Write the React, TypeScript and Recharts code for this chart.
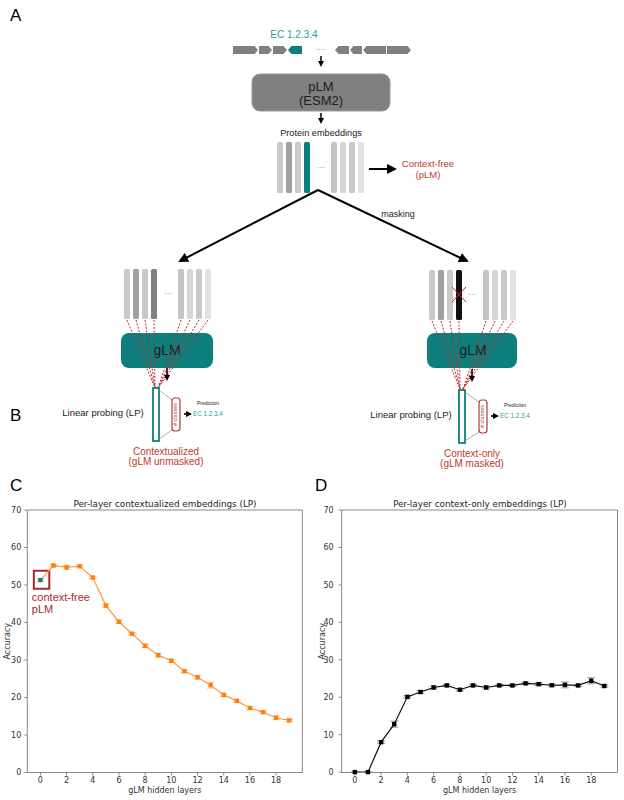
import React from 'react';
import { LineChart, Line, XAxis, YAxis, ErrorBar, ReferenceLine, ReferenceArea } from 'recharts';

const layers = [0, 1, 2, 3, 4, 5, 6, 7, 8, 9, 10, 11, 12, 13, 14, 15, 16, 17, 18, 19];
const contextualizedAcc = [51.3, 55.2, 54.7, 55.0, 52.0, 44.5, 40.2, 37.0, 33.8, 31.3, 29.8, 27.0, 25.4, 23.3, 20.7, 19.1, 17.2, 16.1, 14.6, 13.9];
const contextualizedErr = [0.3, 0.3, 0.5, 0.3, 0.3, 0.4, 0.4, 0.3, 0.4, 0.5, 0.4, 0.3, 0.5, 0.8, 0.4, 0.3, 0.4, 0.3, 0.5, 0.3];
const contextOnlyAcc = [0, 0, 8.0, 12.8, 20.1, 21.4, 22.6, 23.15, 22.0, 23.15, 22.6, 23.15, 23.15, 23.7, 23.5, 23.2, 23.3, 23.15, 24.4, 23.0];
const contextOnlyErr = [0.1, 0.1, 0.3, 0.8, 0.3, 0.4, 0.4, 0.3, 0.3, 0.3, 0.4, 0.3, 0.3, 0.3, 0.4, 0.3, 0.8, 0.3, 0.8, 0.3];
const xTicks = [0, 2, 4, 6, 8, 10, 12, 14, 16, 18];
const yTicks = [0, 10, 20, 30, 40, 50, 60, 70];

const contextualizedData = layers.map((layer, i) => ({ layer, acc: contextualizedAcc[i], err: contextualizedErr[i] }));
const contextOnlyData = layers.map((layer, i) => ({ layer, acc: contextOnlyAcc[i], err: contextOnlyErr[i] }));

const TEAL = '#0d7f7c';
const RED = '#c0392b';
const AXIS = '#888';
const SANS = 'Liberation Sans, Arial, sans-serif';
const PLOT_FONT = 'DejaVu Sans, sans-serif';

const genes: [number, number, number][] = [
  [233, 258, 1], [259, 272, 1], [273, 287, 1], [288, 302, -1],
  [335, 349, -1], [350, 362, -1], [363, 386, -1], [387, 411, 1],
];

function genePath(x0: number, x1: number, dir: number) {
  const y0 = 46, y1 = 54, ym = 50, h = 3.5;
  if (dir === 1) return `M${x0},${y0}L${x1 - h},${y0}L${x1},${ym}L${x1 - h},${y1}L${x0},${y1}Z`;
  return `M${x0 + h},${y0}L${x1},${y0}L${x1},${y1}L${x0 + h},${y1}L${x0},${ym}Z`;
}

const barGreys = ['#c9c9c9', '#a0a0a0', '#c9c9c9', '', '#c4c4c4', '#d6d6d6', '#c9c9c9', '#e2e2e2'];

function Bars({ xs, y0, y1, mid }: { xs: number[]; y0: number; y1: number; mid: string }) {
  return (
    <g>
      {xs.map((x, i) => (
        <rect key={i} x={x} y={y0} width={6} height={y1 - y0} rx={1.5} fill={i === 3 ? mid : barGreys[i]} />
      ))}
    </g>
  );
}

function Dashes({ xs, y, lx, rx, by }: { xs: number[]; y: number; lx: number; rx: number; by: number }) {
  return (
    <g stroke="#c0282d" strokeWidth={1} strokeDasharray="2 1.5" fill="none">
      {xs.map((x, i) => (
        <line key={i} x1={x + 3} y1={y} x2={i < 4 ? lx : rx} y2={by} />
      ))}
    </g>
  );
}

function Probe({ x, y, cls, lbl1, lbl2 }: { x: number; y: number; cls: number; lbl1: string; lbl2: string }) {
  return (
    <g fontFamily={SANS}>
      <rect x={x} y={y} width={6} height={53} fill="#fff" stroke={TEAL} strokeWidth={1.8} />
      <line x1={x + 6} y1={y + 2} x2={cls} y2={y + 12} stroke="#999" strokeWidth={0.8} />
      <line x1={x + 6} y1={y + 51} x2={cls} y2={y + 42} stroke="#999" strokeWidth={0.8} />
      <rect x={cls} y={y + 10} width={8} height={33} rx={3} fill="#fff" stroke="#b03a3a" strokeWidth={1.2} />
      <text x={cls + 4} y={y + 26.5} fontSize={5.5} fill="#b03a3a" textAnchor="middle" dominantBaseline="middle"
        transform={`rotate(-90 ${cls + 4} ${y + 26.5})`}># classes</text>
      <line x1={cls + 12} y1={y + 26} x2={cls + 17} y2={y + 26} stroke="#000" strokeWidth={1.6} markerEnd="url(#ahs)" />
      <text x={cls + 36} y={y + 17} fontSize={5} textAnchor="middle" fill="#222">Prediction</text>
      <text x={cls + 36} y={y + 28} fontSize={6.3} textAnchor="middle" fill="#2a9d9a">EC 1.2.3.4</text>
      <text x={x + 13} y={y + 67} fontSize={10} textAnchor="middle" fill={RED}>{lbl1}</text>
      <text x={x + 13} y={y + 77} fontSize={10} textAnchor="middle" fill={RED}>{lbl2}</text>
    </g>
  );
}

function Diagram() {
  return (
    <svg width={624} height={800} style={{ position: 'absolute', left: 0, top: 0 }}>
      <defs>
        <marker id="ah" viewBox="0 0 10 10" refX="8" refY="5" markerWidth="5" markerHeight="5" orient="auto">
          <path d="M0,0L10,5L0,10z" fill="#000" />
        </marker>
        <marker id="ahs" viewBox="0 0 10 10" refX="5" refY="5" markerWidth="4" markerHeight="4" orient="auto">
          <path d="M0,0L10,5L0,10z" fill="#000" />
        </marker>
      </defs>
      <g fontFamily={SANS}>
        <text x={10} y={21} fontSize={17}>A</text>
        <text x={10} y={421} fontSize={17}>B</text>
        <text x={10} y={491} fontSize={17}>C</text>
        <text x={315} y={491} fontSize={17}>D</text>

        <text x={294} y={38} fontSize={10} textAnchor="middle" fill="#2a9d9a">EC 1.2.3.4</text>
        {genes.map(([a, b, d], i) => (
          <path key={i} d={genePath(a, b, d)} fill={i === 3 ? TEAL : '#808080'} />
        ))}
        <text x={321} y={52} fontSize={8} textAnchor="middle" fill="#777">····</text>
        <line x1={321} y1={56} x2={321} y2={64} stroke="#000" strokeWidth={1.5} markerEnd="url(#ahs)" />

        <rect x={252} y={74} width={138} height={37} rx={8} fill="#808080" stroke="#9a9a9a" />
        <text x={321} y={91} fontSize={13} textAnchor="middle" fill="#1c1c1c">pLM</text>
        <text x={321} y={105} fontSize={13} textAnchor="middle" fill="#1c1c1c">(ESM2)</text>
        <line x1={321} y1={113} x2={321} y2={121} stroke="#000" strokeWidth={1.5} markerEnd="url(#ahs)" />
        <text x={321} y={136} fontSize={9.2} textAnchor="middle" fill="#1c1c1c">Protein embeddings</text>

        <Bars xs={[277, 286, 295, 304, 331, 340, 349, 358]} y0={142} y1={193} mid={TEAL} />
        <text x={321} y={170} fontSize={8} textAnchor="middle" fill="#777">···</text>
        <line x1={369} y1={169} x2={395} y2={169} stroke="#000" strokeWidth={2} markerEnd="url(#ah)" />
        <text x={428} y={167} fontSize={9.5} textAnchor="middle" fill={RED}>Context-free</text>
        <text x={428} y={178} fontSize={9.5} textAnchor="middle" fill={RED}>(pLM)</text>

        <line x1={318} y1={190} x2={180} y2={261} stroke="#000" strokeWidth={2} markerEnd="url(#ah)" />
        <line x1={318} y1={190} x2={467} y2={261} stroke="#000" strokeWidth={2} markerEnd="url(#ah)" />
        <text x={398} y={217} fontSize={9} textAnchor="middle" fill="#1c1c1c">masking</text>

        <Bars xs={[124, 133, 142, 151, 178, 187, 196, 205]} y0={269} y1={319} mid="#7f7f7f" />
        <text x={168} y={296} fontSize={8} textAnchor="middle" fill="#777">···</text>
        <rect x={121} y={333} width={92} height={35} rx={8} fill={TEAL} />
        <text x={167} y={355} fontSize={14} textAnchor="middle" fill="#1a1a1a">gLM</text>
        <Dashes xs={[124, 133, 142, 151, 178, 187, 196, 205]} y={320} lx={155} rx={158} by={388} />
        <line x1={167} y1={368} x2={167} y2={378} stroke="#000" strokeWidth={1.5} markerEnd="url(#ahs)" />

        <Bars xs={[429, 438, 447, 456, 483, 492, 501, 510]} y0={270} y1={320} mid="#111" />
        <text x={472} y={297} fontSize={8} textAnchor="middle" fill="#777">···</text>
        <line x1={452} y1={287} x2={466} y2={302} stroke="#c0282d" strokeWidth={1} />
        <line x1={466} y1={287} x2={452} y2={302} stroke="#c0282d" strokeWidth={1} />
        <rect x={427} y={333} width={90} height={35} rx={8} fill={TEAL} />
        <text x={473} y={355} fontSize={14} textAnchor="middle" fill="#1a1a1a">gLM</text>
        <Dashes xs={[429, 438, 447, 456, 483, 492, 501, 510]} y={321} lx={460} rx={463} by={389} />
        <line x1={472} y1={369} x2={472} y2={379} stroke="#000" strokeWidth={1.5} markerEnd="url(#ahs)" />

        <text x={103} y={416} fontSize={9.5} textAnchor="middle" fill="#1c1c1c">Linear probing (LP)</text>
        <text x={411} y={418} fontSize={9.5} textAnchor="middle" fill="#1c1c1c">Linear probing (LP)</text>
        <Probe x={153} y={388} cls={172} lbl1="Contextualized" lbl2="(gLM unmasked)" />
        <Probe x={459} y={390} cls={479} lbl1="Context-only" lbl2="(gLM masked)" />
      </g>
      <g fontFamily={PLOT_FONT} fontSize={8.8} fill="#222" textAnchor="middle">
        <text x={165} y={507}>Per-layer contextualized embeddings (LP)</text>
        <text x={480} y={507}>Per-layer context-only embeddings (LP)</text>
      </g>
    </svg>
  );
}

const YLabel = ({ viewBox, dx }: any) => {
  const x = viewBox.x + dx;
  const y = viewBox.y + viewBox.height / 2;
  return (
    <text x={x} y={y} transform={`rotate(-90 ${x} ${y})`} textAnchor="middle" fontSize={8} fontFamily={PLOT_FONT} fill="#333">
      Accuracy
    </text>
  );
};

const XLabel = ({ viewBox }: any) => (
  <text x={viewBox.x + viewBox.width / 2} y={viewBox.y + 20.5} textAnchor="middle" fontSize={8} fontFamily={PLOT_FONT} fill="#333">
    gLM hidden layers
  </text>
);

const CtxFreeLabel = ({ viewBox }: any) => (
  <g fontFamily={SANS} fontSize={11} fill="#a8282e">
    <text x={viewBox.x - 2} y={viewBox.y + viewBox.height + 12.5}>context-free</text>
    <text x={viewBox.x - 2} y={viewBox.y + viewBox.height + 24.5}>pLM</text>
  </g>
);

const squareDot = (color: string, first?: string) => (props: any) => {
  const { cx, cy, index } = props;
  const c = index === 0 && first ? first : color;
  return <rect key={`d${index}`} x={cx - 2.2} y={cy - 2.2} width={4.4} height={4.4} fill={c} />;
};

const tickStyle = { fontSize: 8, fontFamily: PLOT_FONT, fill: '#333' };

function Panel({ data, yWidth, right, stroke, dotColor, errColor, firstColor, left, tickMargin, children }: any) {
  return (
    <div style={{ position: 'absolute', left, top: 490 }}>
      <LineChart width={312} height={310} data={data} margin={{ top: 20, right, bottom: 0, left: 0 }}>
        <XAxis dataKey="layer" type="number" domain={[-1, 20]} ticks={xTicks} interval={0} height={27.5}
          stroke={AXIS} tickSize={3} tickMargin={2} tick={tickStyle} label={<XLabel />} />
        <YAxis type="number" domain={[0, 70]} ticks={yTicks} interval={0} width={yWidth}
          stroke={AXIS} tickSize={3} tickMargin={tickMargin} tick={tickStyle} label={<YLabel dx={yWidth - 17} />} />
        <ReferenceLine y={70} stroke={AXIS} />
        <ReferenceLine x={20} stroke={AXIS} />
        {children}
        <Line type="linear" dataKey="acc" stroke={stroke} strokeWidth={1.2} isAnimationActive={false}
          dot={squareDot(dotColor, firstColor)} activeDot={false}>
          <ErrorBar dataKey="err" width={4} stroke={errColor} strokeWidth={1} direction="y" />
        </Line>
      </LineChart>
    </div>
  );
}

export default function App() {
  return (
    <div style={{ position: 'absolute', left: 0, top: 0, width: 624, height: 800, background: '#fff' }}>
      <Diagram />
      <Panel data={contextualizedData} yWidth={27.3} right={9.7} stroke="#fb9a45" dotColor="#ff7f0e"
        errColor="#f9c592" firstColor={TEAL} left={0} tickMargin={3}>
        <ReferenceArea x1={-0.5} x2={0.68} y1={49} y2={53.8} fill="none" stroke="#a8282e" strokeWidth={2}
          ifOverflow="visible" label={<CtxFreeLabel />} />
      </Panel>
      <Panel data={contextOnlyData} yWidth={29.7} right={6.5} stroke="#111" dotColor="#000"
        errColor="#999" left={312} tickMargin={5} />
    </div>
  );
}
